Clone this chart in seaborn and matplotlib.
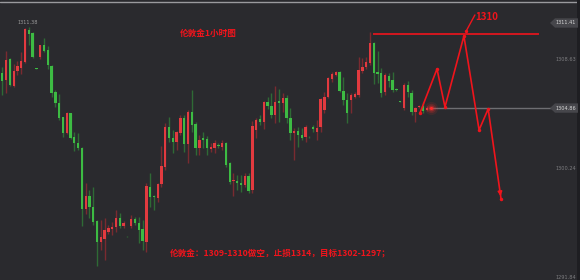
import numpy as np
import pandas as pd
import matplotlib
matplotlib.use("Agg")
import matplotlib.pyplot as plt
import matplotlib.transforms as mtransforms
from matplotlib.patches import Polygon
import seaborn as sns

# ---------------- data (1-hour London gold candles) ----------------
opens = [1307.56, 1307.02, 1308.64, 1306.56, 1307.71, 1307.94, 1308.41, 1310.87, 1310.64, 1307.94,
         1308.79, 1309.72, 1309.33, 1308.10, 1306.10, 1305.25, 1304.17, 1302.94, 1304.48, 1302.63,
         1302.17, 1301.79, 1297.09, 1298.09, 1297.24, 1296.17, 1294.55, 1294.78, 1295.32, 1295.55,
         1295.70, 1296.40, 1295.78, 1295.01, 1295.78, 1296.32, 1296.01, 1295.55, 1294.55, 1298.78,
         1298.09, 1297.94, 1299.01, 1300.32, 1303.40, 1302.56, 1302.25, 1302.94, 1304.09, 1302.09,
         1304.56, 1303.63, 1301.79, 1302.56, 1302.48, 1301.71, 1301.79, 1302.02, 1301.86, 1302.17,
         1300.63, 1299.25, 1299.25, 1299.09, 1298.94, 1299.63, 1298.55, 1303.17, 1304.02, 1303.79,
         1305.33, 1305.02, 1304.32, 1305.40, 1305.25, 1305.64, 1304.09, 1302.94, 1303.10, 1302.79,
         1302.63, 1302.63, 1303.40, 1303.02, 1303.40, 1304.71, 1305.71, 1307.10, 1307.41, 1307.64,
         1306.17, 1305.48, 1305.48, 1305.71, 1305.87, 1307.71, 1308.02, 1308.33, 1309.87, 1307.64,
         1307.56, 1306.10, 1307.33, 1307.02, 1306.33, 1305.40, 1304.86, 1306.64, 1306.02, 1304.56,
         1304.94, 1305.02, 1304.71]
closes = [1306.94, 1308.56, 1306.64, 1307.71, 1308.10, 1308.48, 1310.95, 1310.56, 1308.79, 1307.90,
          1309.72, 1309.25, 1308.18, 1306.02, 1305.25, 1304.09, 1302.94, 1304.48, 1302.56, 1302.17,
          1301.79, 1297.09, 1298.09, 1297.24, 1296.09, 1294.55, 1294.93, 1295.47, 1295.63, 1295.70,
          1296.40, 1295.78, 1296.01, 1294.97, 1296.32, 1296.01, 1295.47, 1294.62, 1298.86, 1298.01,
          1298.01, 1299.01, 1300.40, 1303.40, 1302.56, 1302.25, 1303.02, 1304.09, 1302.09, 1304.56,
          1303.56, 1301.79, 1302.40, 1302.40, 1301.79, 1301.86, 1302.17, 1301.94, 1302.17, 1300.48,
          1299.17, 1299.32, 1299.09, 1298.94, 1299.63, 1298.47, 1303.48, 1303.94, 1303.79, 1305.33,
          1305.02, 1304.32, 1305.33, 1305.25, 1305.64, 1304.09, 1302.94, 1303.10, 1302.79, 1302.56,
          1303.40, 1302.60, 1303.25, 1303.33, 1305.56, 1305.71, 1307.18, 1307.48, 1307.64, 1306.17,
          1305.48, 1304.48, 1305.87, 1305.94, 1307.79, 1308.02, 1308.41, 1309.87, 1307.56, 1307.48,
          1306.02, 1307.41, 1306.94, 1306.25, 1306.25, 1305.36, 1306.64, 1306.10, 1304.56, 1304.86,
          1305.02, 1304.63, 1304.86]
highs = [1308.02, 1309.25, 1308.71, 1308.25, 1308.48, 1309.18, 1311.02, 1311.10, 1310.72, 1307.96,
         1309.72, 1310.25, 1309.64, 1308.18, 1306.25, 1305.94, 1304.17, 1304.56, 1304.48, 1303.02,
         1302.94, 1301.86, 1299.09, 1298.55, 1298.78, 1296.24, 1296.24, 1296.40, 1295.86, 1296.09,
         1297.01, 1296.78, 1296.17, 1295.03, 1296.63, 1296.47, 1296.47, 1296.24, 1299.09, 1299.86,
         1298.17, 1299.09, 1301.94, 1303.71, 1304.17, 1303.17, 1303.10, 1304.32, 1304.32, 1304.71,
         1306.25, 1303.79, 1302.79, 1303.02, 1302.71, 1302.17, 1302.40, 1302.17, 1302.40, 1302.25,
         1300.71, 1299.86, 1299.71, 1299.71, 1299.86, 1299.86, 1303.86, 1304.09, 1304.32, 1305.40,
         1305.71, 1306.02, 1306.56, 1306.33, 1306.02, 1305.87, 1304.86, 1303.33, 1303.40, 1303.33,
         1303.56, 1302.71, 1303.56, 1303.94, 1305.64, 1306.10, 1307.25, 1307.64, 1307.71, 1307.71,
         1307.25, 1306.02, 1306.02, 1306.10, 1308.79, 1308.71, 1308.79, 1310.72, 1309.95, 1309.25,
         1307.94, 1307.56, 1307.56, 1307.64, 1306.41, 1305.42, 1306.79, 1306.94, 1306.25, 1304.94,
         1305.10, 1305.33, 1305.02]
lows = [1305.87, 1306.02, 1306.56, 1306.48, 1307.41, 1307.48, 1308.33, 1309.72, 1308.71, 1307.88,
        1308.64, 1309.18, 1307.87, 1305.71, 1304.94, 1303.94, 1302.63, 1302.86, 1302.48, 1301.56,
        1301.63, 1295.78, 1296.70, 1296.40, 1295.86, 1292.70, 1293.93, 1293.16, 1295.16, 1295.09,
        1295.32, 1295.63, 1295.63, 1294.95, 1295.63, 1295.86, 1294.47, 1293.93, 1293.78, 1297.24,
        1297.01, 1297.63, 1298.78, 1300.09, 1302.25, 1301.40, 1301.63, 1302.79, 1301.48, 1300.63,
        1303.02, 1301.25, 1301.25, 1301.79, 1301.25, 1301.48, 1301.40, 1301.79, 1301.63, 1300.32,
        1299.01, 1298.09, 1298.55, 1298.40, 1298.78, 1298.32, 1298.32, 1302.56, 1303.56, 1303.25,
        1304.79, 1304.09, 1303.71, 1303.79, 1304.56, 1303.71, 1302.40, 1300.86, 1301.86, 1302.40,
        1302.25, 1302.56, 1303.02, 1302.40, 1303.02, 1304.48, 1305.64, 1306.87, 1307.33, 1306.10,
        1305.10, 1303.71, 1304.48, 1305.64, 1305.71, 1307.56, 1307.87, 1308.18, 1306.71, 1306.79,
        1305.71, 1305.87, 1306.48, 1306.10, 1306.17, 1305.34, 1304.71, 1305.71, 1304.32, 1303.79,
        1304.86, 1304.48, 1304.63]

axis_ticks = [1291.84, 1300.24, 1308.63]
tag_prices = [1311.41, 1304.86]
max_label = "1311.38"
current_price = 1304.86
resistance = 1310.60

# planned path (candle index, price)
path_x = [110.2, 114.7, 116.8, 121.8, 125.8, 128.2, 131.6]
path_y = [1304.48, 1307.87, 1304.94, 1310.41, 1303.17, 1304.79, 1297.86]

title_text = "伦敦金1小时图"
plan_text = "伦敦金：1309-1310做空，止损1314，目标1302-1297；"
target_label = "1310"

# ---------------- style ----------------
sns.set_theme(style="dark")
plt.rcParams['font.family'] = ['Noto Sans CJK SC', 'DejaVu Sans']

BG = "#2a2a2e"
UP = "#e23a3f"
DOWN = "#3dbb43"
UP_W = "#7a2a30"
DOWN_W = "#2f6a35"
ANN = "#f0141c"

fig = plt.figure(figsize=(5.8, 2.8), dpi=100, facecolor=BG)
ax = fig.add_axes([0, 0, 1, 1])
ax.set_facecolor(BG)

df = pd.DataFrame({"open": opens, "high": highs, "low": lows, "close": closes})
df["idx"] = np.arange(len(df))
up = df["close"] >= df["open"]

# wicks
ax.vlines(df["idx"][up], df["low"][up], df["high"][up], color=UP_W, lw=1.0, zorder=2)
ax.vlines(df["idx"][~up], df["low"][~up], df["high"][~up], color=DOWN_W, lw=1.0, zorder=2)
# bodies
bottom = np.minimum(df["open"], df["close"])
height = np.maximum(np.abs(df["close"] - df["open"]), 0.06)
ax.bar(df["idx"][up], height[up], bottom=bottom[up], width=0.62, color=UP, lw=0, zorder=3)
ax.bar(df["idx"][~up], height[~up], bottom=bottom[~up], width=0.62, color=DOWN, lw=0, zorder=3)

ax.set_xlim(-0.61, 152.43)
ax.set_ylim(1291.62, 1313.18)

# current price line
last_i = df["idx"].iloc[-1]
ax.hlines(current_price, last_i + 0.5, 145.0, color="#6e6e72", lw=1.0, zorder=2)

# resistance line
ax.hlines(resistance, 97.8, 141.6, color=ANN, lw=1.2, zorder=4)

# planned zig-zag path
path_df = pd.DataFrame({"x": path_x, "y": path_y})
sns.lineplot(data=path_df, x="x", y="y", ax=ax, color=ANN, lw=1.2, sort=False,
             marker="o", markersize=2.5, markeredgewidth=0, zorder=5, legend=False)
ax.annotate("", xy=(path_x[-1], path_y[-1]), xytext=(path_x[-2] + 0.9 * (path_x[-1] - path_x[-2]),
            path_y[-2] + 0.9 * (path_y[-1] - path_y[-2])),
            arrowprops=dict(arrowstyle="-|>", color=ANN, lw=1.2, mutation_scale=6), zorder=6)
ax.set_xlabel("")
ax.set_ylabel("")

# 1310 callout
ax.plot([122.4, 124.7], [1310.79, 1312.03], color=ANN, lw=1.0, zorder=5)
ax.scatter([122.4], [1310.79], s=6, color=ANN, zorder=6, lw=0)
ax.text(124.9, 1311.87, target_label, color=ANN, fontsize=7.0, fontweight="bold",
        ha="left", va="center", zorder=6)

# glowing current price dot
for s, a in [(90, 0.10), (45, 0.18), (18, 0.35), (5, 1.0)]:
    ax.scatter([last_i + 1.0], [current_price], s=s, color="#ff2a2a", alpha=a, lw=0, zorder=7)

# texts
ax.text(46.9, 1310.60, title_text, color=ANN, fontsize=6.2, fontweight="bold",
        ha="left", va="center", zorder=6)
ax.text(44.2, 1293.70, plan_text, color=ANN, fontsize=6.2, fontweight="bold",
        ha="left", va="center", zorder=6)
ax.text(6.8, 1311.42, max_label, color="#9a9a9a", fontsize=3.6, ha="center", va="center",
        family="DejaVu Sans", zorder=6)

# right price axis
ax.yaxis.tick_right()
ax.set_yticks(axis_ticks)
ax.set_yticklabels([f"{v:.2f}" for v in axis_ticks])
ax.tick_params(axis="y", length=0, pad=-3, labelsize=3.6, labelcolor="#7d7d80")
for lbl in ax.get_yticklabels():
    lbl.set_horizontalalignment("right")
    lbl.set_family("DejaVu Sans")
ax.set_xticks([])
ax.grid(False)
for sp in ax.spines.values():
    sp.set_visible(False)

# price tags
trans = mtransforms.blended_transform_factory(ax.transAxes, ax.transData)
hh = 0.36
for p in tag_prices:
    x0, x1, x2 = 550 / 580, 555 / 580, 578 / 580
    poly = Polygon([(x0, p), (x1, p + hh), (x2, p + hh), (x2, p - hh), (x1, p - hh)],
                   closed=True, transform=trans, facecolor="#46464b", edgecolor="none", zorder=8)
    ax.add_patch(poly)
    ax.text(576 / 580, p, f"{p:.2f}", transform=trans, color="#d8d8d8", fontsize=3.6,
            ha="right", va="center", family="DejaVu Sans", zorder=9)

# frame details
ax.axhline(ax.get_ylim()[1] - 0.16, color="#9a9a9e", lw=1.0, zorder=1)
ax.axvspan(151.7, 152.43, color="#1e1e22", zorder=1, lw=0)

fig.savefig("out.png", dpi=100, facecolor=BG)
